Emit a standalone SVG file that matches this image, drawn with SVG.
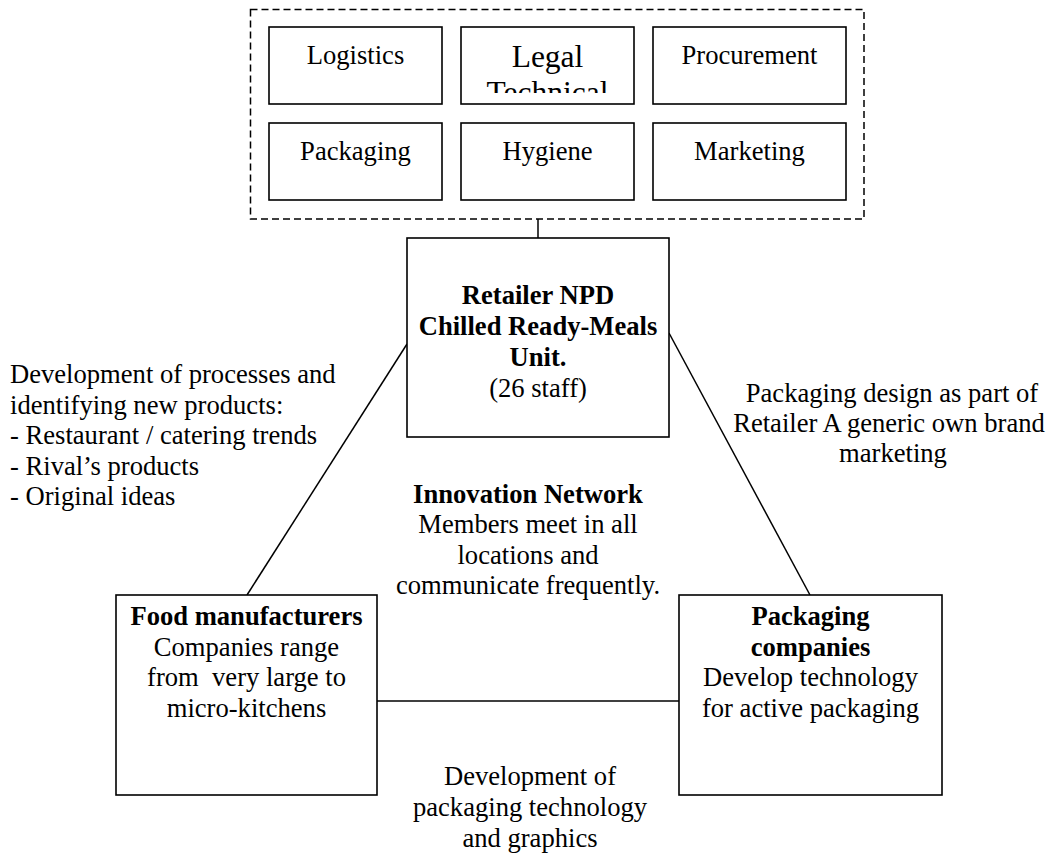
<svg xmlns="http://www.w3.org/2000/svg" width="1055" height="856" viewBox="0 0 1055 856">
<style>
text{font-family:"Liberation Serif","Times New Roman",serif;font-size:26.6px;fill:#000}
.c{text-anchor:middle}
.b{font-weight:bold}
.box{fill:#fff;stroke:#000;stroke-width:1.6}
.line{fill:none;stroke:#000;stroke-width:1.5}
</style>
<defs>
<clipPath id="legalClip"><rect x="461" y="27" width="173" height="66"/></clipPath>
</defs>
<rect width="1055" height="856" fill="#fff"/>
<g id="connectors">
<line class="line" x1="538" y1="219" x2="538" y2="238"/>
<line class="line" x1="407" y1="344" x2="247" y2="595"/>
<line class="line" x1="669" y1="333" x2="810" y2="595"/>
<line class="line" x1="377" y1="701" x2="679" y2="701"/>
</g>
<g id="departments">
<rect x="250.5" y="9.5" width="613.5" height="209.5" fill="none" stroke="#000" stroke-width="1.5" stroke-dasharray="7 4"/>
<g id="logistics"><rect class="box" x="269" y="27" width="173" height="77"/><text class="c" x="355.5" y="64">Logistics</text></g>
<g id="legal"><rect class="box" x="461" y="27" width="173" height="77"/><g clip-path="url(#legalClip)"><text class="c" x="547.5" y="67" style="font-size:31.5px">Legal</text><text class="c" x="547.5" y="103" style="font-size:31.5px">Technical</text></g></g>
<g id="procurement"><rect class="box" x="653" y="27" width="193" height="77"/><text class="c" x="749.5" y="64">Procurement</text></g>
<g id="packaging"><rect class="box" x="269" y="123" width="173" height="77"/><text class="c" x="355.5" y="160">Packaging</text></g>
<g id="hygiene"><rect class="box" x="461" y="123" width="173" height="77"/><text class="c" x="547.5" y="160">Hygiene</text></g>
<g id="marketing"><rect class="box" x="653" y="123" width="193" height="77"/><text class="c" x="749.5" y="160">Marketing</text></g>
</g>
<g id="retailer">
<rect class="box" x="407" y="238" width="262" height="199"/>
<text class="c b" x="538" y="304">Retailer NPD</text>
<text class="c b" x="538" y="335">Chilled Ready-Meals</text>
<text class="c b" x="538" y="366">Unit.</text>
<text class="c" x="538" y="397">(26 staff)</text>
</g>
<g id="food">
<rect class="box" x="116" y="595" width="261" height="200"/>
<text class="c b" x="246.5" y="625">Food manufacturers</text>
<text class="c" x="246.5" y="656">Companies range</text>
<text class="c" x="246.5" y="686" xml:space="preserve">from  very large to</text>
<text class="c" x="246.5" y="717">micro-kitchens</text>
</g>
<g id="packcos">
<rect class="box" x="679" y="595" width="263" height="200"/>
<text class="c b" x="810.5" y="625">Packaging</text>
<text class="c b" x="810.5" y="656">companies</text>
<text class="c" x="810.5" y="686">Develop technology</text>
<text class="c" x="810.5" y="717">for active packaging</text>
</g>
<g id="left-label">
<text x="10" y="383">Development of processes and</text>
<text x="10" y="413.5">identifying new products:</text>
<text x="10" y="444">- Restaurant / catering trends</text>
<text x="10" y="474.5">- Rival’s products</text>
<text x="10" y="505">- Original ideas</text>
</g>
<g id="right-label">
<text class="c" x="892" y="402">Packaging design as part of</text>
<text class="c" x="889" y="432">Retailer A generic own brand</text>
<text class="c" x="893" y="462">marketing</text>
</g>
<g id="center-label">
<text class="c b" x="528" y="503">Innovation Network</text>
<text class="c" x="528" y="533">Members meet in all</text>
<text class="c" x="528" y="564">locations and</text>
<text class="c" x="528" y="594">communicate frequently.</text>
</g>
<g id="bottom-label">
<text class="c" x="530" y="785">Development of</text>
<text class="c" x="530" y="816">packaging technology</text>
<text class="c" x="530" y="847">and graphics</text>
</g>
</svg>
